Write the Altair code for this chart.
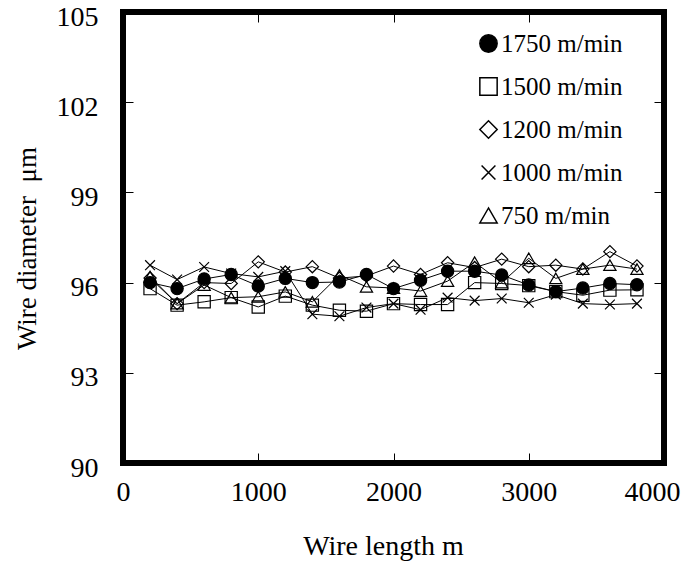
import altair as alt
import pandas as pd

# ---- data ----
wire_length = [200, 400, 600, 800, 1000, 1200, 1400, 1600, 1800, 2000,
               2200, 2400, 2600, 2800, 3000, 3200, 3400, 3600, 3800]
speeds = ["1750 m/min", "1500 m/min", "1200 m/min", "1000 m/min", "750 m/min"]

d1750 = [96.00, 95.80, 96.12, 96.27, 95.89, 96.14, 96.00, 96.02, 96.27, 95.80,
         96.08, 96.38, 96.38, 96.25, 95.92, 95.70, 95.82, 95.97, 95.93]
d1500 = [95.80, 95.25, 95.36, 95.50, 95.19, 95.55, 95.25, 95.08, 95.05, 95.30,
         95.27, 95.27, 96.00, 95.97, 95.90, 95.70, 95.58, 95.75, 95.76]
d1200 = [96.15, 95.30, 96.00, 95.97, 96.69, 96.35, 96.53, 96.15, 96.22, 96.55,
         96.27, 96.66, 96.50, 96.78, 96.53, 96.58, 96.45, 97.03, 96.55]
d1000 = [96.58, 96.10, 96.52, 96.30, 96.19, 96.38, 94.95, 94.88, 95.17, 95.30,
         95.10, 95.50, 95.40, 95.47, 95.33, 95.60, 95.30, 95.27, 95.30]
d750 = [96.20, 95.30, 95.92, 95.50, 95.53, 95.69, 95.36, 96.25, 95.86, 95.82,
        95.72, 96.05, 96.68, 96.00, 96.81, 96.14, 96.45, 96.58, 96.45]

x_ticks = [0, 1000, 2000, 3000, 4000]
y_ticks = [90, 93, 96, 99, 102, 105]

rows = []
for name, vals in zip(speeds, [d1750, d1500, d1200, d1000, d750]):
    for x, v in zip(wire_length, vals):
        rows.append({"length": x, "diameter": v, "speed": name})
df = pd.DataFrame(rows)

FONT = "Liberation Serif"
x_scale = alt.Scale(domain=[0, 4000], nice=False, zero=False)
y_scale = alt.Scale(domain=[90, 105], nice=False, zero=False)

x_axis = alt.Axis(orient="bottom", values=x_ticks, format="d", grid=False, domain=False,
                  offset=-10, tickSize=10, tickWidth=1, tickColor="black",
                  labelFont=FONT, labelFontSize=28, labelColor="black", labelPadding=15,
                  labelFlush=False, labelOverlap=False,
                  labelOffset=alt.condition("datum.value == 4000", alt.value(-12), alt.value(0)),
                  title="Wire length m", titleFont=FONT, titleFontSize=28,
                  titleFontWeight="normal", titleColor="black",
                  titleX=260, titleY=101, titleBaseline="alphabetic", titleAlign="center")
y_axis = alt.Axis(orient="left", values=y_ticks, format="d", grid=False, domain=False,
                  offset=-10, tickSize=10, tickWidth=1, tickColor="black",
                  labelFont=FONT, labelFontSize=28, labelColor="black", labelPadding=25,
                  labelOffset=5, labelFlush=False, labelOverlap=False,
                  title="Wire diameter\u00a0\u00a0μm", titleFont=FONT, titleFontSize=27,
                  titleFontWeight="normal", titleColor="black", titleAngle=-90,
                  titleX=-98, titleY=236, titleBaseline="alphabetic", titleAlign="center")
x_axis_top = alt.Axis(orient="top", values=x_ticks, labels=False, title=None, grid=False,
                      domain=False, offset=-10, tickSize=10, tickWidth=1, tickColor="black")
y_axis_right = alt.Axis(orient="right", values=y_ticks, labels=False, title=None, grid=False,
                        domain=False, offset=-10, tickSize=10, tickWidth=1, tickColor="black")

x_path = "M-0.8,-0.8L0.8,0.8M-0.8,0.8L0.8,-0.8"

base = alt.Chart(df)

lines = base.mark_line(color="black", strokeWidth=1).encode(
    x=alt.X("length:Q", scale=x_scale, axis=x_axis),
    y=alt.Y("diameter:Q", scale=y_scale, axis=y_axis),
    detail="speed:N",
)

legend = alt.Legend(
    orient="none", legendX=353, legendY=19, title=None, padding=0,
    labelFont=FONT, labelFontSize=25, labelColor="black", labelOffset=0,
    symbolSize=300, symbolStrokeWidth=1.5, symbolOpacity=1,
    rowPadding=17,
    labelExpr="datum.value == '750 m/min' ? '\u2007\u2007' + datum.value : datum.value",
)

points = base.mark_point(size=150, strokeWidth=1.2, opacity=1).encode(
    x=alt.X("length:Q", scale=x_scale, axis=None),
    y=alt.Y("diameter:Q", scale=y_scale, axis=None),
    shape=alt.Shape("speed:N", sort=speeds,
                    scale=alt.Scale(domain=speeds,
                                    range=["circle", "square", "diamond", x_path, "triangle-up"]),
                    legend=legend),
    fill=alt.Fill("speed:N", sort=speeds,
                  scale=alt.Scale(domain=speeds,
                                  range=["black", "transparent", "transparent",
                                         "transparent", "transparent"]),
                  legend=legend),
    stroke=alt.Stroke("speed:N", sort=speeds,
                      scale=alt.Scale(domain=speeds,
                                      range=["black", "black", "black", "black", "black"]),
                      legend=legend),
)

tick_axes = base.mark_point(opacity=0).encode(
    x=alt.X("length:Q", scale=x_scale, axis=x_axis_top),
    y=alt.Y("diameter:Q", scale=y_scale, axis=y_axis_right),
)

chart = alt.layer(lines, points, tick_axes).resolve_axis(
    x="independent", y="independent"
).properties(
    width=541, height=451,
    autosize=alt.AutoSizeParams(type="none"),
    padding={"left": 123, "top": 12, "right": 20, "bottom": 100},
    background="white",
).configure_view(stroke="black", strokeWidth=6)

chart.save("out.html", embed_options={"renderer": "svg", "actions": False})
